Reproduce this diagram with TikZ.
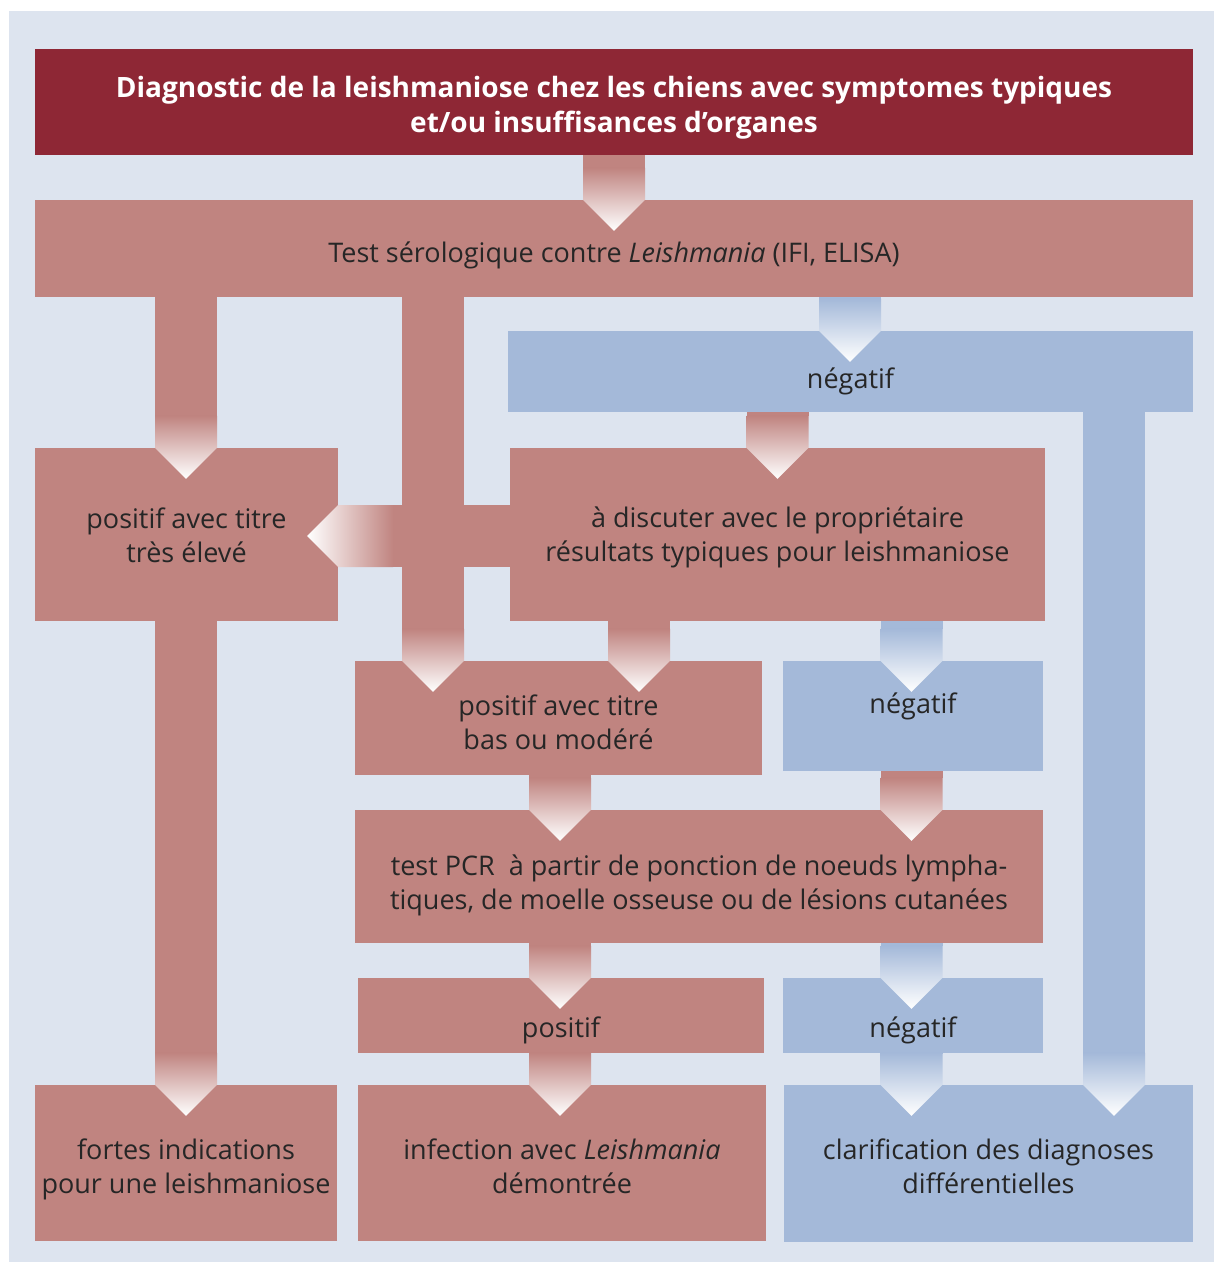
\documentclass[tikz,border=0pt]{standalone}
\usepackage{fontspec}
\setmainfont{Open Sans}
\usetikzlibrary{calc}

\definecolor{panel}{HTML}{DDE4EF}
\definecolor{wine}{HTML}{8E2735}
\definecolor{rose}{HTML}{C08480}
\definecolor{sky}{HTML}{A4B9D9}
\definecolor{ink}{HTML}{262626}

% fat arrow going down: colour, x of the stem, from node, to node
\newcommand{\flowdown}[4]{%
  \coordinate (ax) at (#2,0);
  \coordinate (ac) at (#4.north -| ax);
  \fill[#1] ($(#3.south -| ax)+(-31,0)$) rectangle ($(ac)+(31,-31.5)$);
  \shade[top color=#1, bottom color=white] (ac) ++(-31,-32) -- ++(0,32) -- ++(31,31) -- ++(31,-31) -- ++(0,-32) -- cycle;
}
% fat arrow going left: colour, y of the stem, from node, to node
\newcommand{\flowleft}[4]{%
  \coordinate (ay) at (0,#2);
  \coordinate (ac) at (#4.east |- ay);
  \fill[#1] ($(#3.west |- ay)+(0,-31)$) rectangle ($(ac)+(54.5,31)$);
  \shade[left color=white, right color=#1] (ac) ++(55,-31) -- ++(-55,0) -- ++(-31,31) -- ++(31,31) -- ++(55,0) -- cycle;
}

\begin{document}
\begin{tikzpicture}[x=1pt, y=-1pt,
  box/.style={rectangle, inner sep=0pt, align=center, text=ink, font=\fontsize{27}{34}\selectfont},
  rosebox/.style={box, fill=rose},
  skybox/.style={box, fill=sky},
  topbox/.style={box, fill=wine, text=white, font=\bfseries\fontsize{28}{35}\selectfont},
  % baseline of the last line below / above the box centre
  sink/.style={text height=#1, text depth=0pt},
  lift/.style={text height=0pt, text depth=#1}]

  \useasboundingbox (0,0) rectangle (1214,1262);
  \fill[panel] (9,11) rectangle (1214,1262);

  \node[topbox, minimum width=1158pt, minimum height=106pt, sink=60pt] (title) at (614,102) {Diagnostic de la leishmaniose chez les chiens avec symptomes typiques\\et/ou insuffisances d’organes};
  \node[rosebox, minimum width=1158pt, minimum height=97pt, sink=27pt] (test) at (614,248.5) {Test sérologique contre \textit{Leishmania} (IFI, ELISA)};
  \node[skybox, minimum width=685pt, minimum height=81pt, sink=33pt] (neg1) at (850.5,371.5) {négatif};
  \node[rosebox, minimum width=303pt, minimum height=173pt, sink=55pt] (poshigh) at (186.5,534.5) {positif avec titre\\très élevé};
  \node[rosebox, minimum width=535pt, minimum height=173pt, sink=53pt] (discuss) at (777.5,534.5) {à discuter avec le propriétaire\\résultats typiques pour leishmaniose};
  \node[rosebox, minimum width=407pt, minimum height=114pt, sink=62pt] (poslow) at (558.5,718) {positif avec titre\\bas ou modéré};
  \node[skybox, minimum width=260pt, minimum height=110pt, lift=6pt] (neg2) at (913,716) {négatif};
  \node[rosebox, minimum width=688pt, minimum height=133pt, sink=65pt] (pcr) at (699,876.5) {test PCR\ \ à partir de ponction de noeuds lympha-\\tiques, de moelle osseuse ou de lésions cutanées};
  \node[rosebox, minimum width=406pt, minimum height=75pt, sink=43pt] (pos) at (561,1015.5) {positif};
  \node[skybox, minimum width=260pt, minimum height=75pt, sink=43pt] (neg3) at (913,1015.5) {négatif};
  \node[rosebox, minimum width=302pt, minimum height=156pt, sink=60pt] (strong) at (186,1163) {fortes indications\\pour une leishmaniose};
  \node[rosebox, minimum width=408pt, minimum height=156pt, sink=60pt] (infect) at (562,1163) {infection avec \textit{Leishmania}\\démontrée};
  \node[skybox, minimum width=409pt, minimum height=157pt, sink=59pt] (clarif) at (988.5,1163.5) {clarification des diagnoses\\différentielles};

  \flowdown{rose}{614}{title}{test}
  \flowdown{rose}{186}{test}{poshigh}
  \flowdown{rose}{433}{test}{poslow}
  \flowdown{sky}{850}{test}{neg1}
  \flowdown{rose}{777.5}{neg1}{discuss}
  \flowdown{sky}{1114}{neg1}{clarif}
  \flowleft{rose}{536}{discuss}{poshigh}
  \flowdown{rose}{639}{discuss}{poslow}
  \flowdown{sky}{911.5}{discuss}{neg2}
  \flowdown{rose}{186}{poshigh}{strong}
  \flowdown{rose}{560}{poslow}{pcr}
  \flowdown{rose}{911.5}{neg2}{pcr}
  \flowdown{rose}{560}{pcr}{pos}
  \flowdown{sky}{911.5}{pcr}{neg3}
  \flowdown{rose}{560}{pos}{infect}
  \flowdown{sky}{911.5}{neg3}{clarif}
\end{tikzpicture}
\end{document}
